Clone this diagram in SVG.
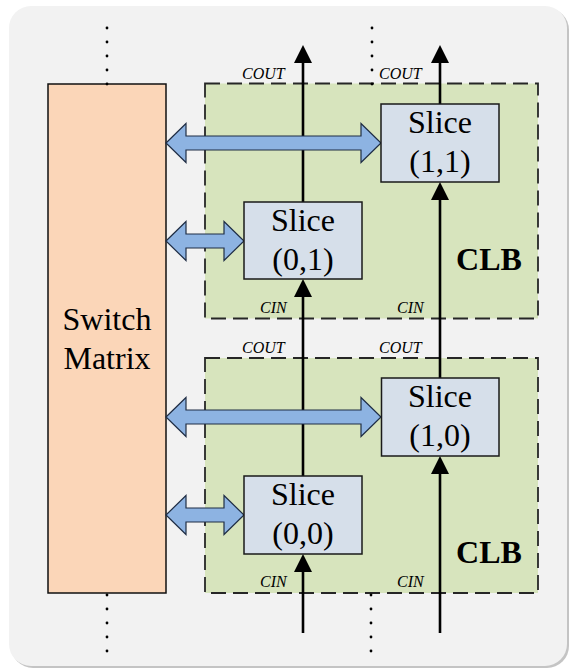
<svg xmlns="http://www.w3.org/2000/svg" width="569" height="671" viewBox="0 0 569 671">
<style>
text{font-family:"Liberation Serif","Times New Roman",serif;fill:#000}
.big{font-size:32px;text-anchor:middle}
.clb{font-size:32px;font-weight:bold;text-anchor:middle}
.sm{font-size:16px;font-style:italic}
.slice{fill:#d6dfea;stroke:#1a1a1a;stroke-width:1.5}
.clbbox{fill:#d7e4bd;stroke:#262626;stroke-width:1.8;stroke-dasharray:15 7}
.wire{stroke:#000;stroke-width:2.6;fill:none;marker-end:url(#ah)}
.bus{fill:#8db3e2;stroke:#1f2d44;stroke-width:1.2;stroke-linejoin:miter}
.dot{fill:#000}
</style>
<defs>
<marker id="ah" markerUnits="userSpaceOnUse" markerWidth="18" markerHeight="18" viewBox="0 0 18 18" refX="0" refY="9" orient="auto">
<path d="M0,0 L18,9 L0,18 Z" fill="#000"/>
</marker>
</defs>
<rect x="11" y="8" width="558" height="660" rx="22" fill="#c4c4c4"/>
<rect x="9" y="6" width="558" height="660" rx="22" fill="#f2f2f2"/>
<g id="switch-matrix">
<rect x="48" y="84" width="118" height="509" fill="#fbd6b8" stroke="#111" stroke-width="1.5"/>
<text class="big" x="107" y="330">Switch</text>
<text class="big" x="107" y="369">Matrix</text>
</g>
<g id="clb-top">
<rect class="clbbox" x="205" y="83.5" width="333" height="235"/>
<text class="clb" x="489" y="270">CLB</text>
</g>
<g id="clb-bottom">
<rect class="clbbox" x="205" y="358" width="333" height="235"/>
<text class="clb" x="489" y="563">CLB</text>
</g>
<g id="connectors">
<line class="wire" x1="303" y1="633" x2="303" y2="572"/>
<line class="wire" x1="303" y1="476" x2="303" y2="297"/>
<line class="wire" x1="303" y1="202" x2="303" y2="63"/>
<line class="wire" x1="440" y1="633" x2="440" y2="474"/>
<line class="wire" x1="440" y1="378" x2="440" y2="200"/>
<line class="wire" x1="440" y1="104" x2="440" y2="63"/>
<path class="bus" d="M166,143 L186,123.5 L186,136 L361,136 L361,123.5 L381,143 L361,162.5 L361,150 L186,150 L186,162.5 Z"/>
<path class="bus" d="M166,241 L186,221.5 L186,234 L224,234 L224,221.5 L244,241 L224,260.5 L224,248 L186,248 L186,260.5 Z"/>
<path class="bus" d="M166,417 L186,397.5 L186,410 L361,410 L361,397.5 L381,417 L361,436.5 L361,424 L186,424 L186,436.5 Z"/>
<path class="bus" d="M166,515 L186,495.5 L186,508 L224,508 L224,495.5 L244,515 L224,534.5 L224,522 L186,522 L186,534.5 Z"/>
</g>
<g id="slice-1-1">
<rect class="slice" x="381" y="104" width="118" height="78"/>
<text class="big" x="440" y="133">Slice</text>
<text class="big" x="440" y="172">(1,1)</text>
</g>
<g id="slice-0-1">
<rect class="slice" x="244" y="202" width="118" height="77"/>
<text class="big" x="303" y="230.5">Slice</text>
<text class="big" x="303" y="269.5">(0,1)</text>
</g>
<g id="slice-1-0">
<rect class="slice" x="381.5" y="378" width="117.5" height="78"/>
<text class="big" x="440" y="407">Slice</text>
<text class="big" x="440" y="446">(1,0)</text>
</g>
<g id="slice-0-0">
<rect class="slice" x="244" y="476" width="118" height="78"/>
<text class="big" x="303" y="504.5">Slice</text>
<text class="big" x="303" y="543.5">(0,0)</text>
</g>
<g id="labels">
<text class="sm" x="242" y="79">COUT</text>
<text class="sm" x="379" y="79">COUT</text>
<text class="sm" x="242" y="353">COUT</text>
<text class="sm" x="379" y="353">COUT</text>
<text class="sm" x="260" y="313">CIN</text>
<text class="sm" x="397" y="313">CIN</text>
<text class="sm" x="260" y="587">CIN</text>
<text class="sm" x="397" y="587">CIN</text>
</g>
<g id="dots">
<circle class="dot" cx="107" cy="28" r="1.4"/><circle class="dot" cx="107" cy="42" r="1.4"/><circle class="dot" cx="107" cy="56" r="1.4"/><circle class="dot" cx="107" cy="70" r="1.4"/><circle class="dot" cx="107" cy="84" r="1.4"/>
<circle class="dot" cx="372" cy="28" r="1.4"/><circle class="dot" cx="372" cy="42" r="1.4"/><circle class="dot" cx="372" cy="56" r="1.4"/><circle class="dot" cx="372" cy="70" r="1.4"/><circle class="dot" cx="372" cy="84" r="1.4"/>
<circle class="dot" cx="107" cy="595" r="1.4"/><circle class="dot" cx="107" cy="609" r="1.4"/><circle class="dot" cx="107" cy="623" r="1.4"/><circle class="dot" cx="107" cy="637" r="1.4"/><circle class="dot" cx="107" cy="651" r="1.4"/>
<circle class="dot" cx="371" cy="595" r="1.4"/><circle class="dot" cx="371" cy="609" r="1.4"/><circle class="dot" cx="371" cy="623" r="1.4"/><circle class="dot" cx="371" cy="637" r="1.4"/><circle class="dot" cx="371" cy="651" r="1.4"/>
</g>
</svg>
